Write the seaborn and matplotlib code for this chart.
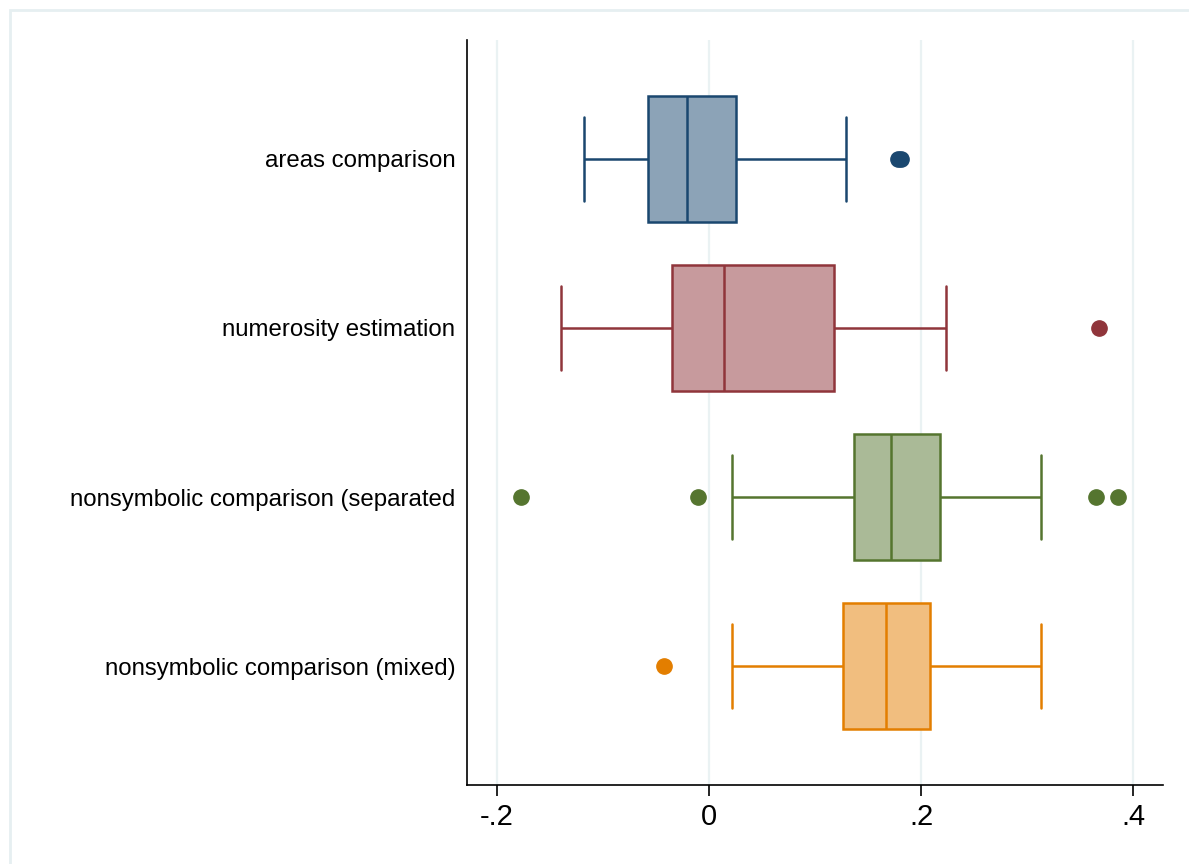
import matplotlib
matplotlib.use("Agg")
import matplotlib.pyplot as plt
from matplotlib.patches import Rectangle
import pandas as pd
import seaborn as sns

# categories, top to bottom
tasks = ["areas comparison",
         "numerosity estimation",
         "nonsymbolic comparison (separated",
         "nonsymbolic comparison (mixed)"]

# values (per task)
areas_vals = [-0.118, -0.090, -0.070, -0.057, -0.045, -0.030, -0.021,
              -0.005, 0.010, 0.026, 0.129, 0.178, 0.181]
numer_vals = [-0.139, -0.080, -0.035, -0.005, 0.014, 0.060, 0.118, 0.223, 0.368]
separ_vals = [-0.177, -0.010, 0.022, 0.137, 0.150, 0.160, 0.172,
              0.190, 0.200, 0.218, 0.313, 0.365, 0.386]
mixed_vals = [-0.042, 0.022, 0.126, 0.140, 0.167, 0.190, 0.208, 0.250, 0.313]

edge_colors = ["#1a476f", "#90353b", "#55752f", "#e37e00"]
fill_colors = ["#8ca3b7", "#c79a9d", "#aaba97", "#f1be7f"]

xticks = [-0.2, 0, 0.2, 0.4]
xtick_labels = ["-.2", "0", ".2", ".4"]

rows = []
for name, vals in zip(tasks, [areas_vals, numer_vals, separ_vals, mixed_vals]):
    for v in vals:
        rows.append({"task": name, "value": v})
df = pd.DataFrame(rows)

sns.set_style("white")
plt.rcParams["font.family"] = ["Liberation Sans", "DejaVu Sans"]
plt.rcParams["text.color"] = "black"
plt.rcParams["xtick.color"] = "black"
plt.rcParams["ytick.color"] = "black"

fig = plt.figure(figsize=(11.89, 8.64), dpi=100)
ax = fig.add_axes([467 / 1189, 79 / 864, 696 / 1189, 745 / 864])

# light grid behind boxes
for t in xticks:
    ax.axvline(t, color="#eaf2f3", lw=1.6, zorder=0)

for name, fc, ec in zip(tasks, fill_colors, edge_colors):
    sns.boxplot(data=df[df["task"] == name], x="value", y="task", order=tasks,
                orient="h", color=fc, linecolor=ec, saturation=1, width=0.74,
                linewidth=1.8, whis=1.5, capwidths=0.5,
                flierprops=dict(marker="o", markerfacecolor=ec, markeredgecolor=ec,
                                markersize=11),
                ax=ax, zorder=2)

ax.set_xlim(-0.228, 0.428)
ax.set_ylim(3.704, -0.704)
ax.set_xticks(xticks)
ax.set_xticklabels(xtick_labels, fontsize=21, color="black")
ax.set_yticks(range(len(tasks)))
ax.set_yticklabels(tasks, fontsize=17.3, color="black")
ax.set_xlabel("")
ax.set_ylabel("")
ax.tick_params(axis="y", length=0, pad=8.5)
ax.tick_params(axis="x", length=8, width=1.2, pad=5, color="black", bottom=True)
ax.grid(False)

for s in ["top", "right"]:
    ax.spines[s].set_visible(False)
for s in ["left", "bottom"]:
    ax.spines[s].set_color("black")
    ax.spines[s].set_linewidth(1.2)

# outer graph region frame
fig.patches.append(Rectangle((10 / 1189, -0.05), 1.2, 854 / 864 + 0.05,
                             transform=fig.transFigure, fill=False,
                             edgecolor="#e6eff1", lw=2))

fig.savefig("out.png", dpi=100)
